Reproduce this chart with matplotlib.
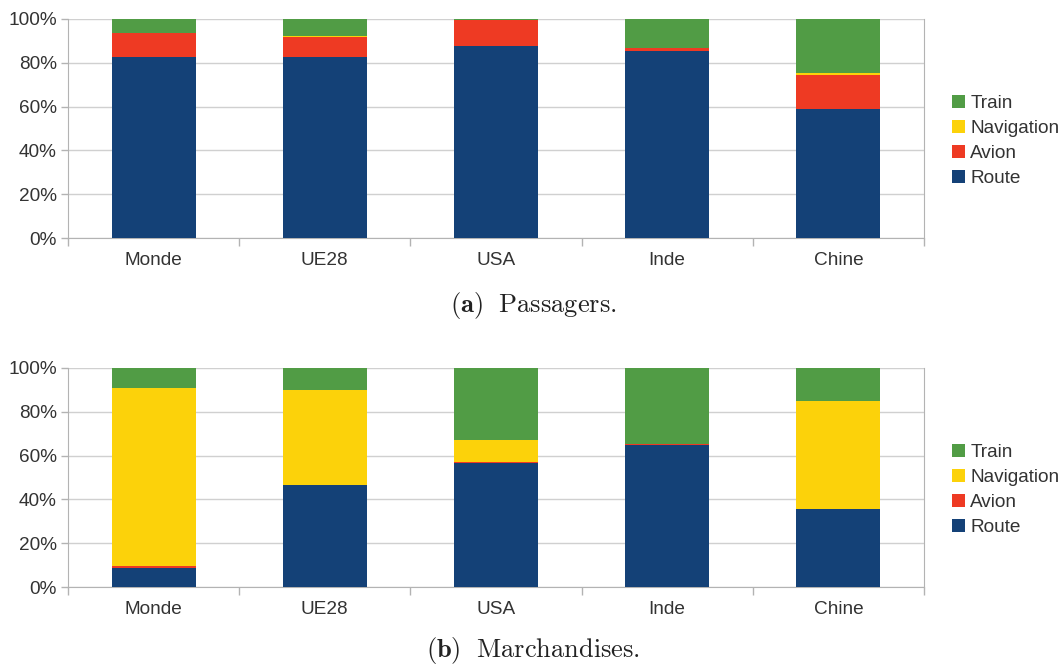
import numpy as np
import matplotlib.pyplot as plt
from matplotlib.ticker import FixedLocator, PercentFormatter

plt.rcParams['font.family'] = ['Liberation Sans', 'DejaVu Sans']
plt.rcParams['mathtext.fontset'] = 'cm'

regions = ['Monde', 'UE28', 'USA', 'Inde', 'Chine']
modes = ['Route', 'Avion', 'Navigation', 'Train']
colors = ['#144177', '#ee3a23', '#fcd20a', '#519c45']

# parts in %
passRoute = [82.6, 82.6, 87.7, 85.4, 59.0]
passAvion = [11.0, 9.2, 11.8, 1.5, 15.6]
passNavig = [0.0, 0.5, 0.0, 0.0, 0.5]
passTrain = [6.4, 7.7, 0.5, 13.1, 24.9]

fretRoute = [8.7, 46.5, 56.7, 64.8, 35.7]
fretAvion = [0.9, 0.1, 0.5, 0.3, 0.1]
fretNavig = [81.3, 43.1, 9.9, 0.0, 49.2]
fretTrain = [9.1, 10.3, 32.9, 34.9, 15.0]

captions = [r'$\mathbf{(a)}\ \ \mathrm{Passagers.}$', r'$\mathbf{(b)}\ \ \mathrm{Marchandises.}$']

grey = '#b3b3b3'
txt = '#333333'
fs = 13.7

fig = plt.figure(figsize=(10.62, 6.66), dpi=100)
ax1 = fig.add_axes([0.064, 0.6426, 0.806, 0.329])
ax2 = fig.add_axes([0.064, 0.1186, 0.806, 0.329])

def drawChart(ax, series, caption, capY):
  x = np.arange(len(regions))
  bottom = np.zeros(len(regions))
  bars = []
  for vals, col, name in zip(series, colors, modes):
    b = ax.bar(x, vals, 0.49, bottom=bottom, color=col, label=name, zorder=3)
    bars.append(b)
    bottom += np.array(vals)
  ax.set_xlim(-0.5, len(regions) - 0.5)
  ax.set_ylim(0, 100)
  ax.yaxis.set_major_locator(FixedLocator([0, 20, 40, 60, 80, 100]))
  ax.yaxis.set_major_formatter(PercentFormatter(decimals=0))
  ax.set_xticks(x)
  ax.set_xticklabels(regions)
  ax.xaxis.set_minor_locator(FixedLocator(np.arange(-0.5, len(regions), 1.0)))
  ax.tick_params(axis='x', which='major', length=0, pad=10, labelsize=fs, labelcolor=txt)
  ax.tick_params(axis='x', which='minor', length=6, color=grey, width=1)
  ax.tick_params(axis='y', length=5, color=grey, width=1, pad=3, labelsize=fs, labelcolor=txt)
  ax.grid(axis='y', color='#d0d0d0', linewidth=1, zorder=0)
  for s in ax.spines.values():
    s.set_color(grey)
  ax.spines['top'].set_visible(False)
  ax.legend(bars[::-1], modes[::-1], loc='center left', bbox_to_anchor=(1.033, 0.441),
            frameon=False, fontsize=fs, handlelength=0.65, handleheight=0.65,
            handletextpad=0.3, labelspacing=0.42, borderpad=0, borderaxespad=0,
            labelcolor=txt)
  fig.text(0.502, capY, caption, ha='center', va='center', fontsize=19, color='#222222')

drawChart(ax1, [passRoute, passAvion, passNavig, passTrain], captions[0], 1 - 305 / 666)
drawChart(ax2, [fretRoute, fretAvion, fretNavig, fretTrain], captions[1], 1 - 651 / 666)

fig.savefig('out.png', dpi=100)
